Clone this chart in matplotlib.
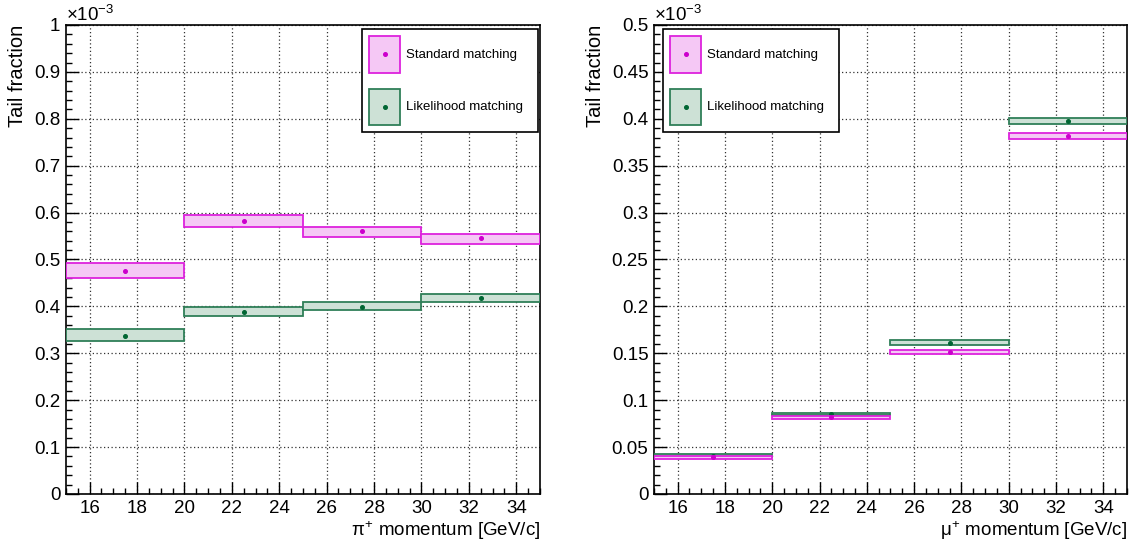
import matplotlib
matplotlib.use("Agg")
import matplotlib.pyplot as plt
from matplotlib.patches import Rectangle
from matplotlib.lines import Line2D
from matplotlib.legend_handler import HandlerBase
from matplotlib.ticker import MultipleLocator, FuncFormatter

plt.rcParams['font.family'] = ['Liberation Sans', 'DejaVu Sans']
plt.rcParams['mathtext.fontset'] = 'custom'
plt.rcParams['mathtext.rm'] = 'Liberation Sans'
plt.rcParams['mathtext.it'] = 'Liberation Sans'
plt.rcParams['mathtext.bf'] = 'Liberation Sans:bold'

# ---------------- data (tail fraction, units of 1e-3) ----------------
bin_edges = [15, 20, 25, 30, 35]

# pi+ panel
pi_std_val = [0.476, 0.582, 0.560, 0.545]
pi_std_lo = [0.4615, 0.5702, 0.5489, 0.5340]
pi_std_hi = [0.4921, 0.5943, 0.5694, 0.5553]
pi_lik_val = [0.337, 0.3885, 0.399, 0.417]
pi_lik_lo = [0.3255, 0.3787, 0.3915, 0.4085]
pi_lik_hi = [0.3517, 0.3985, 0.4085, 0.4255]

# mu+ panel
mu_std_val = [0.0394, 0.0816, 0.1514, 0.3816]
mu_std_lo = [0.0372, 0.0798, 0.1497, 0.3784]
mu_std_hi = [0.0401, 0.0833, 0.1539, 0.3848]
mu_lik_val = [0.0404, 0.0848, 0.1614, 0.3979]
mu_lik_lo = [0.0390, 0.0837, 0.1593, 0.3947]
mu_lik_hi = [0.0426, 0.0862, 0.1638, 0.4007]

series_labels = ["Standard matching", "Likelihood matching"]
xlabels = [r"$\pi^{+}$ momentum [GeV/c]", r"$\mu^{+}$ momentum [GeV/c]"]
ylabel = "Tail fraction"
exponent_label = r"$\times10^{-3}$"

# ---------------- styles ----------------
std_edge = '#dd22dd'
std_fill = '#f5c8f5'
std_pt = '#cc00cc'
lik_edge = '#2f7f58'
lik_fill = '#cde1d6'
lik_pt = '#006633'

fig = plt.figure(figsize=(11.41, 5.49), dpi=100)
ax1 = fig.add_axes([0.0578, 0.1002, 0.4154, 0.8543])
ax2 = fig.add_axes([0.5732, 0.1002, 0.4145, 0.8543])


def draw_series(ax, vals, lo, hi, edge, fill, pt, z):
    for i in range(len(vals)):
        x0, x1 = bin_edges[i], bin_edges[i + 1]
        r = Rectangle((x0, lo[i]), x1 - x0, hi[i] - lo[i], facecolor=fill,
                      edgecolor=edge, linewidth=1.3, zorder=z)
        ax.add_patch(r)
    centers = [(bin_edges[i] + bin_edges[i + 1]) / 2 for i in range(len(vals))]
    ax.plot(centers, vals, 'o', color=pt, markersize=2.6, zorder=z + 0.5,
            linestyle='none')


def style_axis(ax, ymax, ymajor, yminor, xlabel):
    ax.set_xlim(15, 35)
    ax.set_ylim(0, ymax)
    ax.xaxis.set_major_locator(MultipleLocator(2))
    ax.xaxis.set_minor_locator(MultipleLocator(0.5))
    ax.yaxis.set_major_locator(MultipleLocator(ymajor))
    ax.yaxis.set_minor_locator(MultipleLocator(yminor))
    ax.yaxis.set_major_formatter(FuncFormatter(lambda v, p: ('%g' % round(v, 6))))
    ax.tick_params(which='both', direction='in', top=False, right=False,
                   labelsize=13.5, width=1.0, color='black')
    ax.tick_params(which='major', length=9, pad=4)
    ax.tick_params(which='minor', length=4.5)
    ax.grid(True, which='major', linestyle=(0, (1, 2)), color='#333333',
            linewidth=0.9)
    ax.set_axisbelow(True)
    for s in ax.spines.values():
        s.set_linewidth(1.2)
    ax.set_xlabel(xlabel, fontsize=13.5, loc='right', labelpad=2)
    ax.set_ylabel(ylabel, fontsize=14.5, loc='top', labelpad=5)
    ax.text(0.0, 1.0, exponent_label, transform=ax.transAxes, ha='left',
            va='bottom', fontsize=13.5)


draw_series(ax1, pi_lik_val, pi_lik_lo, pi_lik_hi, lik_edge, lik_fill, lik_pt, 3)
draw_series(ax1, pi_std_val, pi_std_lo, pi_std_hi, std_edge, std_fill, std_pt, 4)
draw_series(ax2, mu_lik_val, mu_lik_lo, mu_lik_hi, lik_edge, lik_fill, lik_pt, 3)
draw_series(ax2, mu_std_val, mu_std_lo, mu_std_hi, std_edge, std_fill, std_pt, 4)

style_axis(ax1, 1.0, 0.1, 0.02, xlabels[0])
style_axis(ax2, 0.5, 0.05, 0.01, xlabels[1])


class BoxDot:
    def __init__(self, fill, edge, pt):
        self.fill, self.edge, self.pt = fill, edge, pt


class HandlerBoxDot(HandlerBase):
    def create_artists(self, legend, orig, xdescent, ydescent, width, height,
                       fontsize, trans):
        r = Rectangle((-xdescent, -ydescent), width, height,
                      facecolor=orig.fill, edgecolor=orig.edge, linewidth=1.3,
                      transform=trans)
        d = Line2D([-xdescent + width / 2], [-ydescent + height / 2],
                   marker='o', color=orig.pt, markersize=2.6, linestyle='none',
                   transform=trans)
        return [r, d]


handles = [BoxDot(std_fill, std_edge, std_pt), BoxDot(lik_fill, lik_edge, lik_pt)]
hmap = {BoxDot: HandlerBoxDot()}

leg_kw = dict(fontsize=9.5, handlelength=2.35, handleheight=3.9,
              labelspacing=1.2, borderpad=0.55, handletextpad=0.45,
              borderaxespad=0.0, fancybox=False, framealpha=1.0,
              edgecolor='black', handler_map=hmap, mode='expand',
              loc='upper left')

leg1 = ax1.legend(handles, series_labels,
                  bbox_to_anchor=(0.6245, 0.0, 0.371, 0.992), **leg_kw)
leg1.get_frame().set_linewidth(1.2)
leg1.set_zorder(10)

leg2 = ax2.legend(handles, series_labels,
                  bbox_to_anchor=(0.019, 0.0, 0.372, 0.992), **leg_kw)
leg2.get_frame().set_linewidth(1.2)
leg2.set_zorder(10)

fig.savefig('out.png', dpi=100)
